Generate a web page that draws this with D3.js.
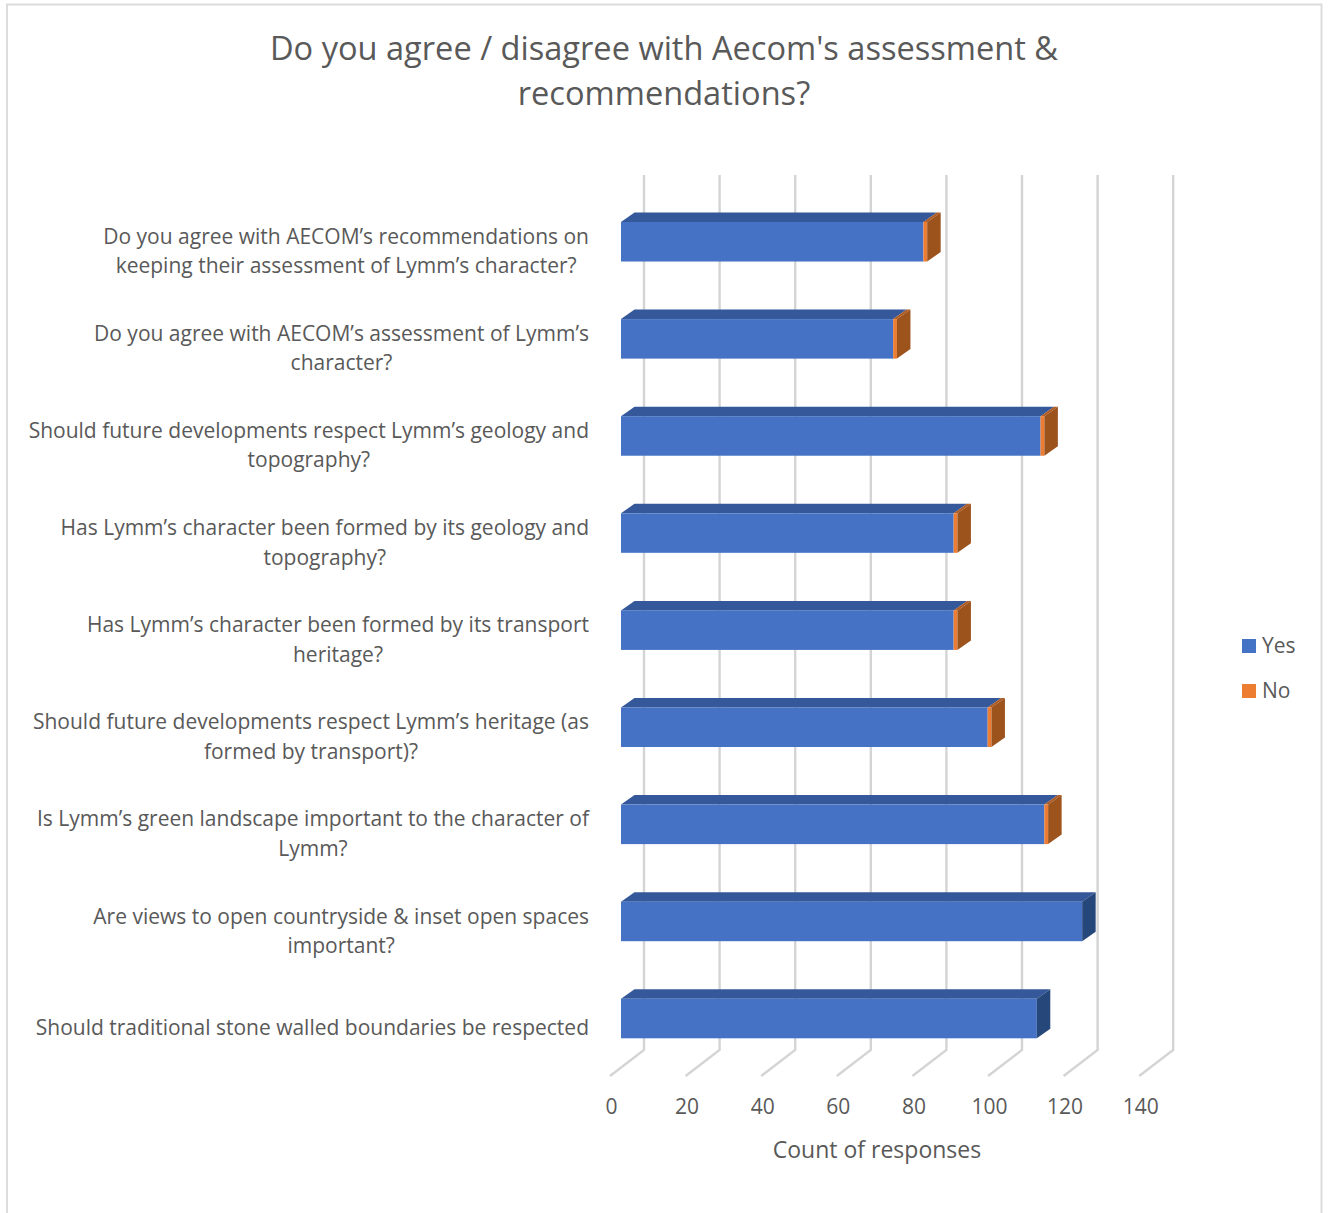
<!DOCTYPE html>
<html>
<head>
<meta charset="utf-8">
<script src="https://cdn.jsdelivr.net/npm/d3@7"></script>
<style>
html,body{margin:0;padding:0;background:#fff;}
svg{display:block;}
text{font-family:"Open Sans",sans-serif;fill:#595959;}
</style>
</head>
<body>
<svg id="chart" width="1328" height="1213"></svg>
<script>
const titleLines = ["Do you agree / disagree with Aecom's assessment &", "recommendations?"];
const categories = [
  ["Do you agree with AECOM’s recommendations on", "keeping their assessment of Lymm’s character?"],
  ["Do you agree with AECOM’s assessment of Lymm’s", "character?"],
  ["Should future developments respect Lymm’s geology and", "topography?"],
  ["Has Lymm’s character been formed by its geology and", "topography?"],
  ["Has Lymm’s character been formed by its transport", "heritage?"],
  ["Should future developments respect Lymm’s heritage (as", "formed by transport)?"],
  ["Is Lymm’s green landscape important to the character of", "Lymm?"],
  ["Are views to open countryside & inset open spaces", "important?"],
  ["Should traditional stone walled boundaries be respected"]
];
const yesValues = [80, 72, 111, 88, 88, 97, 112, 122, 110];
const noValues  = [1, 1, 1, 1, 1, 1, 1, 0, 0];
const xTicks = [0, 20, 40, 60, 80, 100, 120, 140];
const seriesNames = ["Yes", "No"];
const axisTitle = "Count of responses";

const colors = {
  Yes: {front:"#4472c4", top:"#34589a", side:"#284679"},
  No:  {front:"#ed7d31", top:"#ae5a21", side:"#9c521e"}
};
const svg = d3.select("#chart");
const defs = svg.append("defs");
defs.append("filter").attr("id","soft")
  .attr("filterUnits","userSpaceOnUse")
  .attr("x",0).attr("y",0).attr("width",1328).attr("height",1213)
  .append("feGaussianBlur").attr("stdDeviation",0.6);

// chart frame
svg.append("path")
  .attr("d","M7,1213V4.5H1321.5V1213")
  .attr("fill","none").attr("stroke","#dcdcdc").attr("stroke-width",2);

// title
svg.append("g").selectAll("text").data(titleLines).join("text")
  .attr("x",664).attr("y",(d,i)=>49+i*44.5)
  .attr("dy","0.35em").attr("text-anchor","middle")
  .style("font-size","32.6px").text(d=>d);

// scales
const x = d3.scaleLinear().domain([0,140]).range([0,529.2]);
const y = d3.scaleBand().domain(d3.range(categories.length))
  .range([222,1038.3]).paddingInner(0.593).paddingOuter(0);
const depthX = 13.5, depthY = 9.5;
const barLeft = 621, wallLeft = 644, floorLeft = 610;
const wallTop = 175, wallBottom = 1050, floorBottom = 1076;

// walls
svg.append("g").attr("filter","url(#soft)").selectAll("path").data(xTicks).join("path")
  .attr("d",d=>{
    const b = wallLeft + x(d), f = floorLeft + x(d);
    return `M${b},${wallTop}V${wallBottom}L${f},${floorBottom}`;
  })
  .attr("fill","none").attr("stroke","#d4d4d4").attr("stroke-width",2.4);

// bars
const rows = categories.map((c,i)=>({i,yes:yesValues[i],no:noValues[i]}));
const bars = svg.append("g").attr("filter","url(#soft)").selectAll("g").data(rows).join("g");
const bw = y.bandwidth();
const poly = pts => pts.map(p=>p.join(",")).join(" ");
function faces(sel, key, x0Fn, x1Fn){
  const c = colors[key];
  sel.append("polygon")
    .attr("points",d=>{const a=barLeft+x(x0Fn(d)),b=barLeft+x(x1Fn(d)),t=y(d.i);
      return poly([[a,t],[a+depthX,t-depthY],[b+depthX,t-depthY],[b,t]]);})
    .attr("fill",c.top);
  sel.append("rect")
    .attr("x",d=>barLeft+x(x0Fn(d))).attr("y",d=>y(d.i))
    .attr("width",d=>x(x1Fn(d))-x(x0Fn(d))).attr("height",bw)
    .attr("fill",c.front);
}
faces(bars,"Yes",d=>0,d=>d.yes);
faces(bars.filter(d=>d.no>0),"No",d=>d.yes,d=>d.yes+d.no);
bars.append("polygon")
  .attr("points",d=>{const e=barLeft+x(d.yes+d.no),t=y(d.i);
    return poly([[e,t],[e+depthX,t-depthY],[e+depthX,t-depthY+bw],[e,t+bw]]);})
  .attr("fill",d=>colors[d.no>0?"No":"Yes"].side);

// category labels: each block centred, its widest line ending at the axis edge
const labelRight = 589, lineGap = 29.3, labelShift = 8.8;
const labels = svg.append("g").selectAll("text").data(categories).join("text")
  .attr("text-anchor","middle").style("font-size","21px");
labels.each(function(lines,i){
  const t = d3.select(this);
  const cy = y(i)+bw/2+labelShift;
  lines.forEach((l,k)=>{
    t.append("tspan")
      .attr("y",cy+(k-(lines.length-1)/2)*lineGap)
      .attr("dominant-baseline","central").text(l);
  });
  let w = 0;
  t.selectAll("tspan").each(function(){w=Math.max(w,this.getComputedTextLength());});
  t.selectAll("tspan").attr("x",labelRight-w/2);
});

// value axis
const axisG = svg.append("g").attr("transform",`translate(611,1094)`)
  .call(d3.axisBottom(x).tickValues(xTicks).tickSize(0).tickPadding(0));
axisG.select(".domain").remove();
axisG.selectAll("text").style("font-size","21px").attr("fill",null)
  .attr("y",0).attr("dy","0.95em").style("font-family",'"Open Sans",sans-serif');
axisG.attr("font-family",null).attr("font-size",null);

// axis title
svg.append("text").attr("x",877).attr("y",1150).attr("dy","0.35em")
  .attr("text-anchor","middle").style("font-size","23px").text(axisTitle);

// legend
const lg = svg.append("g").selectAll("g").data(seriesNames).join("g")
  .attr("transform",(d,i)=>`translate(1242,${639+i*45})`);
lg.append("rect").attr("width",14).attr("height",14).attr("fill",d=>colors[d].front);
lg.append("text").attr("x",20).attr("y",7).attr("dy","0.35em")
  .style("font-size","21px").text(d=>d);
</script>
</body>
</html>
